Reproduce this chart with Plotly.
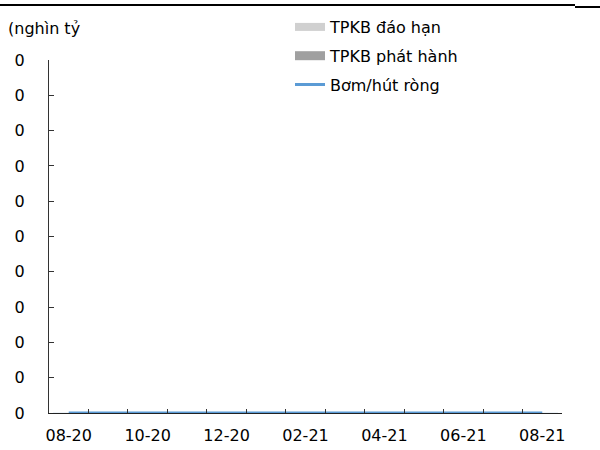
import plotly.graph_objects as go

months = ["08-20", "09-20", "10-20", "11-20", "12-20", "01-21", "02-21",
          "03-21", "04-21", "05-21", "06-21", "07-21", "08-21"]
tpkb_dao_han = [0, 0, 0, 0, 0, 0, 0, 0, 0, 0, 0, 0, 0]
tpkb_phat_hanh = [0, 0, 0, 0, 0, 0, 0, 0, 0, 0, 0, 0, 0]
bom_hut_rong = [0, 0, 0, 0, 0, 0, 0, 0, 0, 0, 0, 0, 0]
x_tick_labels = ["08-20", "", "10-20", "", "12-20", "", "02-21",
                 "", "04-21", "", "06-21", "", "08-21"]
y_tick_values = [0, 1, 2, 3, 4, 5, 6, 7, 8, 9, 10]
y_tick_labels = ["0", "0", "0", "0", "0", "0", "0", "0", "0", "0", "0"]

FONT = "DejaVu Sans"
FS = 16

fig = go.Figure()
fig.add_trace(go.Bar(x=months, y=tpkb_dao_han, name="TPKB đáo hạn",
                     marker_color="#d0d0d0", showlegend=False))
fig.add_trace(go.Bar(x=months, y=tpkb_phat_hanh, name="TPKB phát hành",
                     marker_color="#a0a0a0", showlegend=False))
# legend entries
fig.add_trace(go.Scatter(x=[None], y=[None], mode="lines", name="TPKB đáo hạn",
                         legendgroup="a", line=dict(color="#d0d0d0", width=8)))
fig.add_trace(go.Scatter(x=[None], y=[None], mode="lines", name="TPKB phát hành",
                         legendgroup="b", line=dict(color="#a0a0a0", width=9)))
fig.add_trace(go.Scatter(x=months, y=bom_hut_rong, mode="lines", name="Bơm/hút ròng",
                         legendgroup="c", line=dict(color="#5b9bd5", width=3)))

fig.update_layout(
    width=600, height=450,
    margin=dict(l=49, r=38, t=60, b=37, autoexpand=False),
    paper_bgcolor="white", plot_bgcolor="white",
    font=dict(family=FONT, size=FS, color="black"),
    barmode="overlay",
    showlegend=True,
    legend=dict(x=(290 - 49) / 513, y=1 + 50 / 353, xanchor="left", yanchor="top",
                xref="paper", yref="paper", traceorder="grouped",
                bgcolor="rgba(0,0,0,0)", tracegroupgap=5,
                font=dict(family=FONT, size=FS)),
    title=dict(text="(nghìn tỷ", x=8 / 600, xref="container", xanchor="left",
               y=1 - 28 / 450, yref="container", yanchor="middle",
               font=dict(family=FONT, size=FS)),
    shapes=[
        dict(type="line", xref="paper", yref="paper", x0=-49/513, x1=(575-49)/513,
             y0=1 + 55/353, y1=1 + 55/353, line=dict(color="black", width=2)),
        dict(type="line", xref="paper", yref="paper", x0=(575-49)/513, x1=(600-49)/513,
             y0=1 + 53/353, y1=1 + 53/353, line=dict(color="black", width=2)),
    ],
)

fig.update_xaxes(
    type="category", categoryorder="array", categoryarray=months,
    tickvals=months, ticktext=x_tick_labels, tickangle=0, automargin=False,
    tickson="boundaries", ticks="inside", ticklen=4, tickcolor="#333",
    showline=True, linecolor="#222", linewidth=1,
    showgrid=False, zeroline=False,
    range=[-0.5, 12.5], ticklabelstandoff=8,
)
fig.update_yaxes(
    range=[0, 10], tickvals=y_tick_values, ticktext=y_tick_labels, automargin=False,
    ticks="inside", ticklen=5, tickcolor="#333",
    showline=True, linecolor="#333", linewidth=1,
    showgrid=False, zeroline=False, ticklabelstandoff=20,
)

fig.write_html("out.html")
